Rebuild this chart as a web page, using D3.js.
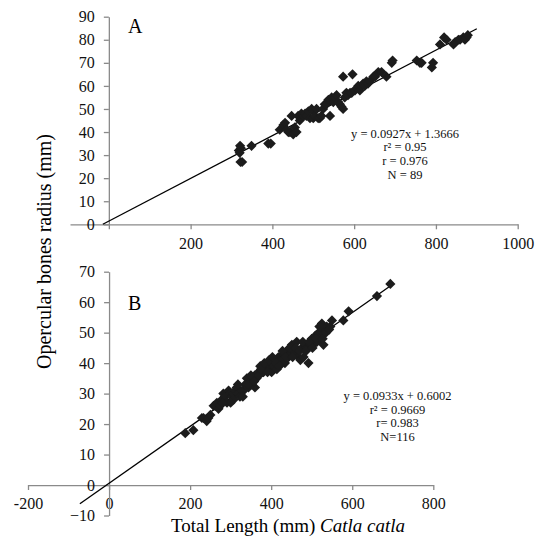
<!DOCTYPE html>
<html>
<head>
<meta charset="utf-8">
<script src="https://cdn.jsdelivr.net/npm/d3@7/dist/d3.min.js"></script>
<style>
  html, body { margin: 0; padding: 0; background: #fff; }
  svg { display: block; font-family: 'Liberation Serif', 'Times New Roman', serif; }
  .axis path, .axis line { stroke: #8a8a8a; stroke-width: 1.3; }
  .axis text { font-size: 16px; fill: #111; font-family: 'Liberation Serif', serif; }
  .fit { stroke: #000; stroke-width: 1.3; fill: none; }
  .pt { fill: #1c1c1c; }
  .eq { font-size: 12.5px; fill: #111; text-anchor: middle; }
  .tag { font-size: 20px; fill: #000; }
</style>
</head>
<body>
<svg id="chart" width="539" height="537"></svg>
<script>
// panel A: total length (mm) vs opercular radius (mm)
const aLength = [318, 321, 323, 320, 322, 326, 349, 390, 396, 418, 427, 431, 439, 443, 447, 451, 455, 459,
  463, 467, 471, 476, 480, 483, 488, 492, 496, 500, 500, 504, 508, 512, 516, 520, 524, 528, 532, 537,
  541, 541, 545, 549, 553, 557, 561, 565, 569, 573, 573, 577, 581, 585, 590, 594, 596, 602, 606, 610,
  614, 618, 622, 626, 630, 634, 638, 647, 651, 659, 667, 679, 692, 694, 753, 761, 765, 790, 793, 810,
  820, 826, 843, 847, 855, 859, 867, 871, 875, 878, 435];
const aRadius = [32, 34, 33, 31, 27, 27, 34, 35, 35, 41, 43, 44, 40, 40, 47, 39, 42, 40,
  47, 45, 48, 47, 48, 47, 49, 46, 50, 49, 46, 47, 50, 46, 46, 47, 50, 52, 52, 54,
  54, 47, 55, 53, 55, 56, 53, 52, 51, 50, 64, 55, 57, 56, 57, 57, 65, 58, 59, 60,
  58, 60, 61, 60, 62, 61, 62, 64, 64, 66, 66, 64, 70, 71, 71, 70, 70, 68, 70, 78,
  81, 80, 78, 79, 80, 80, 81, 80, 81, 82, 41];

// panel B
const bLength = [188, 208, 229, 233, 241, 245, 250, 258, 262, 266, 270, 274, 278, 282, 286, 291, 295, 299,
  303, 307, 307, 311, 315, 319, 323, 328, 332, 336, 340, 344, 348, 352, 356, 360, 360, 364, 368, 373,
  377, 381, 385, 389, 393, 397, 401, 404, 406, 410, 414, 418, 422, 426, 430, 434, 439, 443, 447, 451,
  455, 459, 463, 467, 472, 476, 480, 484, 488, 492, 496, 500, 504, 509, 513, 517, 521, 525, 529, 529,
  533, 537, 546, 550, 578, 591, 661, 694, 300, 318, 330, 342, 350, 358, 370, 375, 383, 391, 395, 403,
  412, 420, 428, 436, 445, 453, 461, 470, 478, 486, 494, 502, 511, 519, 527, 535, 543, 280];
const bRadius = [17, 18, 22, 22, 21, 22, 23, 26, 26, 27, 25, 26, 28, 30, 29, 27, 31, 30,
  29, 30, 28, 31, 32, 30, 29, 31, 31, 33, 35, 32, 34, 33, 35, 36, 32, 35, 37, 39,
  37, 37, 39, 38, 40, 39, 37, 40, 39, 41, 38, 42, 41, 41, 43, 40, 44, 42, 43, 46,
  44, 43, 47, 42, 41, 45, 42, 46, 45, 40, 46, 48, 46, 49, 47, 50, 48, 53, 50, 46,
  51, 52, 52, 54, 54, 57, 62, 66, 27, 33, 29, 33, 36, 34, 36, 38, 40, 37, 41, 42,
  40, 39, 44, 42, 45, 42, 45, 44, 47, 44, 47, 45, 48, 52, 48, 50, 51, 27];

// fitted lines: slope, intercept, x range drawn
const aFit = [0.0927, 1.3666];
const bFit = [0.0933, 0.6002];
const aFitRange = [-14.7, 900];
const bFitRange = [-72, 700];

const aStats = ['y = 0.0927x + 1.3666', 'r\u00b2 = 0.95', 'r = 0.976', 'N = 89'];
const bStats = ['y = 0.0933x + 0.6002', 'r\u00b2 = 0.9669', 'r= 0.983', 'N=116'];

const aXTicks = [0, 200, 400, 600, 800, 1000];
const aYTicks = [0, 10, 20, 30, 40, 50, 60, 70, 80, 90];
const bXTicks = [-200, 0, 200, 400, 600, 800];
const bYTicks = [-10, 0, 10, 20, 30, 40, 50, 60, 70];

const svg = d3.select('#chart');
const diamond = d3.symbol(d3.symbolSquare, 52);

function panel (p) {
  const g = svg.append('g');
  const x = d3.scaleLinear().domain(p.xDomain).range(p.xRange);
  const y = d3.scaleLinear().domain(p.yDomain).range(p.yRange);

  g.append('g')
    .attr('class', 'axis')
    .attr('transform', `translate(0,${y(0)})`)
    .call(d3.axisBottom(x).tickValues(p.xTicks).tickSize(5).tickSizeOuter(0).tickPadding(8)
      .tickFormat(d => (p.hideZero && d === 0) ? '' : d));

  g.append('g')
    .attr('class', 'axis')
    .attr('transform', `translate(${x(0)},0)`)
    .call(d3.axisLeft(y).tickValues(p.yTicks).tickSize(5).tickSizeOuter(0).tickPadding(9));

  // regression line
  const f = d => p.fit[0] * d + p.fit[1];
  g.append('line')
    .attr('class', 'fit')
    .attr('x1', x(p.fitRange[0]))
    .attr('y1', y(f(p.fitRange[0])))
    .attr('x2', x(p.fitRange[1]))
    .attr('y2', y(f(p.fitRange[1])));

  g.selectAll('path.pt')
    .data(p.xs.map((v, i) => [v, p.ys[i]]))
    .join('path')
    .attr('class', 'pt')
    .attr('d', diamond)
    .attr('transform', d => `translate(${x(d[0])},${y(d[1])}) rotate(45)`);

  g.append('text')
    .attr('class', 'tag')
    .attr('x', 128)
    .attr('y', p.tagY)
    .text(p.tag);

  g.selectAll('text.eq')
    .data(p.stats)
    .join('text')
    .attr('class', 'eq')
    .attr('x', p.eqX)
    .attr('y', (d, i) => p.eqY + i * 13.7)
    .text(d => d);
}

panel({
  xs: aLength, ys: aRadius, fit: aFit, fitRange: aFitRange, stats: aStats,
  xDomain: [-95, 1000], xRange: [70, 517.7],
  yDomain: [0, 90], yRange: [224.3, 16.7],
  xTicks: aXTicks, yTicks: aYTicks, hideZero: true,
  tag: 'A', tagY: 33, eqX: 405, eqY: 137.5,
});

panel({
  xs: bLength, ys: bRadius, fit: bFit, fitRange: bFitRange, stats: bStats,
  xDomain: [-200, 800], xRange: [28, 433.3],
  yDomain: [-10, 70], yRange: [515.5, 271.7],
  xTicks: bXTicks, yTicks: bYTicks, hideZero: false,
  tag: 'B', tagY: 310, eqX: 397.5, eqY: 400,
});

// shared axis titles
svg.append('text')
  .attr('transform', 'translate(51,251.5) rotate(-90)')
  .attr('text-anchor', 'middle')
  .style('font-size', '20px')
  .text('Opercular bones radius (mm)');

const xt = svg.append('text')
  .attr('x', 171)
  .attr('y', 532)
  .style('font-size', '19px');
xt.append('tspan').text('Total Length (mm) ');
xt.append('tspan').style('font-style', 'italic').text('Catla catla');
</script>
</body>
</html>
